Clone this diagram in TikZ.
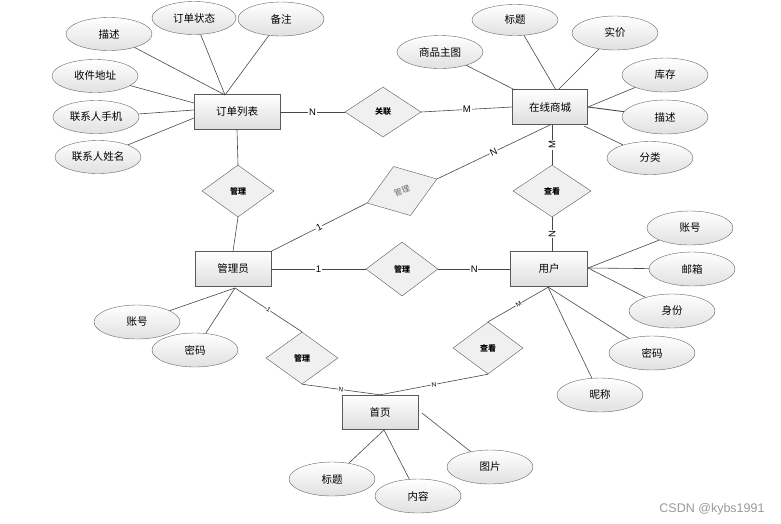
\documentclass[tikz,border=0pt]{standalone}
\usepackage{fontspec}
\usetikzlibrary{shapes.geometric}
\newfontfamily\cjk{Noto Sans CJK SC}
\newfontfamily\lat{Liberation Sans}
\tikzset{
  ent/.style={draw=black!65, rectangle, minimum width=76pt, minimum height=35pt, top color=white, bottom color=black!13, inner sep=0pt, font=\cjk\fontsize{10.5}{12}\selectfont},
  attr/.style={draw=black!60, ellipse, minimum width=86pt, minimum height=33pt, top color=white, bottom color=black!12, inner sep=0pt, font=\cjk\fontsize{10.5}{12}\selectfont},
  rel/.style={draw=black!65, diamond, minimum width=72pt, minimum height=52pt, fill=black!6, inner sep=0pt, font=\cjk\bfseries\fontsize{8}{9}\selectfont},
  ln/.style={draw=black!72, line width=0.6pt},
  card/.style={fill=white, inner sep=0.8pt, font=\lat\fontsize{9.5}{10}\selectfont},
  tcard/.style={fill=white, inner sep=0.5pt, font=\lat\fontsize{6.5}{7}\selectfont, sloped},
}
\begin{document}
\begin{tikzpicture}[x=1pt,y=-1pt]
\useasboundingbox (0,0) rectangle (781,523);
% entities
\node[ent, minimum width=86pt] (ord) at (237,112) {订单列表};
\node[ent, minimum width=75pt] (mall) at (550,107) {在线商城};
\node[ent] (admin) at (233,269) {管理员};
\node[ent, minimum width=77pt] (user) at (549,269) {用户};
\node[ent, minimum height=34pt] (home) at (380,412) {首页};
% relations
\node[rel, minimum width=76pt, minimum height=50pt] (rel1) at (383,112) {关联};
\node[rel] (gl1) at (238,191) {管理};
\node[rel, rotate=19, minimum width=74pt, font=\cjk\fontsize{8}{9}\selectfont, text=black!60] (gl2) at (402,191) {管理};
\node[rel, minimum width=78pt] (ck1) at (552,191) {查看};
\node[rel, minimum height=54pt] (gl3) at (402,269) {管理};
\node[rel] (gl4) at (302,358) {管理};
\node[rel, minimum width=70pt] (ck2) at (488,348) {查看};
% attributes of ord
\node[attr] (o1) at (109,34) {描述};
\node[attr, minimum width=84pt] (o2) at (194,18) {订单状态};
\node[attr, minimum height=34pt] (o3) at (281,19) {备注};
\node[attr] (o4) at (95,76) {收件地址};
\node[attr] (o5) at (96,117) {联系人手机};
\node[attr] (o6) at (98,157) {联系人姓名};
\coordinate (ordT) at (225,95);
\draw[ln] (o1) -- (ordT);
\draw[ln] (o2) -- (ordT);
\draw[ln] (o3) -- (ordT);
\draw[ln] (o4) -- (194,103);
\draw[ln] (o5) -- (194,110);
\draw[ln] (o6) -- (194,118);
% attributes of mall
\node[attr] (m1) at (440,52) {商品主图};
\node[attr, minimum height=31pt] (m2) at (515,20) {标题};
\node[attr, minimum height=34pt] (m3) at (615,33) {实价};
\node[attr, minimum height=34pt] (m4) at (665,75) {库存};
\node[attr, minimum height=34pt] (m5) at (665,117) {描述};
\node[attr] (m6) at (650,158) {分类};
\draw[ln] (m1) -- (515,90);
\draw[ln] (m2) -- (556,90);
\draw[ln] (m3) -- (558,90);
\draw[ln] (m4) -- (588,107);
\draw[ln, line width=0.9pt] (m5) -- (588,107);
\draw[ln] (m6) -- (584,126);
% attributes of user
\node[attr, minimum height=34pt] (u1) at (690,228) {账号};
\node[attr, minimum height=34pt] (u2) at (692,269) {邮箱};
\node[attr, minimum height=34pt] (u3) at (672,311) {身份};
\node[attr, minimum height=34pt] (u4) at (652,353) {密码};
\node[attr, minimum height=34pt] (u5) at (600,395) {昵称};
\coordinate (userE) at (588,268);
\coordinate (userS) at (548,287);
\draw[ln] (u1) -- (userE);
\draw[ln] (u2) -- (userE);
\draw[ln] (u3) -- (userE);
\draw[ln] (u4) -- (userS);
\draw[ln] (u5) -- (userS);
% attributes of admin
\node[attr, minimum height=34pt] (a1) at (137,322) {账号};
\node[attr, minimum height=34pt] (a2) at (195,350) {密码};
\coordinate (adminS) at (235,288);
\draw[ln] (a1) -- (adminS);
\draw[ln] (a2) -- (adminS);
% attributes of home
\node[attr, minimum height=34pt] (h1) at (332,479) {标题};
\node[attr, minimum height=34pt] (h2) at (418,496) {内容};
\node[attr, minimum height=34pt] (h3) at (490,467) {图片};
\coordinate (homeS) at (384,430);
\draw[ln] (h1) -- (homeS);
\draw[ln] (h2) -- (homeS);
\draw[ln] (h3) -- (422,413);
% relationship lines
\draw[ln] (ord.east) -- node[card]{N} (rel1.west);
\draw[ln] (rel1.east) -- node[card]{M} (mall.west);
\draw[ln] (ord.south) -- (gl1.north);
\draw[ln] (gl1.south) -- (admin.north);
\draw[ln] (admin.north east) -- node[card, sloped]{1} (gl2.west);
\coordinate (mallS) at (550,125);
\draw[ln] (gl2.east) -- node[card, sloped, pos=0.5]{N} (mallS);
\draw[ln] (mall.south -| ck1.north) -- node[card, rotate=90]{M} (ck1.north);
\draw[ln] (ck1.south) -- node[card, rotate=90]{N} (ck1.south |- user.north);
\draw[ln] (admin.east) -- node[card]{1} (gl3.west);
\draw[ln] (gl3.east) -- node[card]{N} (user.west);
\draw[ln] (adminS) -- node[tcard]{1} (gl4.north);
\draw[ln] (gl4.south) -- node[tcard]{N} (home.north);
\draw[ln] (home.north) -- node[tcard]{N} (ck2.south);
\draw[ln] (ck2.north) -- node[tcard]{M} (user.south);
% watermark
\node[font=\lat\fontsize{12.5}{14}\selectfont, text=black!40] (wm) at (712,509) {CSDN @kybs1991};
\end{tikzpicture}
\end{document}
